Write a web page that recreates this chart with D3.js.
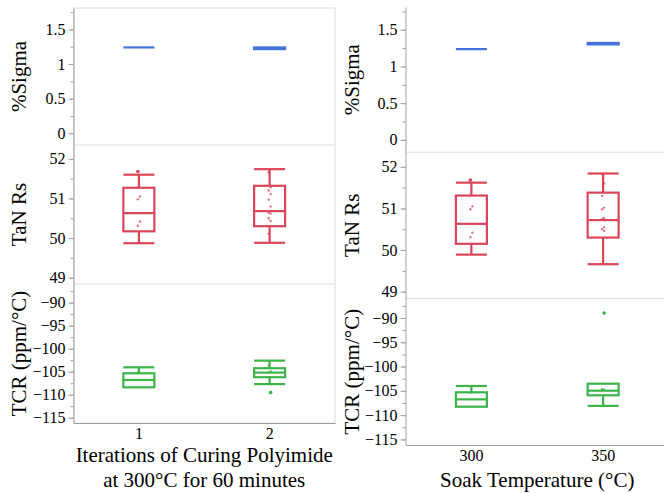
<!DOCTYPE html>
<html>
<head>
<meta charset="utf-8">
<script src="https://cdn.jsdelivr.net/npm/d3@7"></script>
<style>
  body { margin: 0; background: #fff; }
  svg text { font-family: 'Liberation Serif', 'Times New Roman', serif; fill: #000; }
</style>
</head>
<body>
<div id="chart"></div>
<script>
// categories
const groupsLeft = ["1", "2"];
const groupsRight = ["300", "350"];

// row titles and value ranges
const rowTitles = ["%Sigma", "TaN Rs", "TCR (ppm/°C)"];
const rowDomains = [[-0.17, 1.81], [48.84, 52.35], [-116.15, -85.95]];
const rowTicks = [[0, 0.5, 1, 1.5], [49, 50, 51, 52], [-115, -110, -105, -100, -95, -90]];
const rowMinorStep = [0.25, 0.5, 2.5];

// box summaries per group: [low whisker, Q1, median, Q3, high whisker]
const sigmaLeft = [[1.24, 1.24, 1.24, 1.24, 1.24], [1.216, 1.216, 1.228, 1.24, 1.24]];
const sigmaRight = [[1.236, 1.236, 1.236, 1.236, 1.236], [1.30, 1.30, 1.31, 1.32, 1.32]];
const tanLeft = [[49.87, 50.17, 50.63, 51.27, 51.6], [49.88, 50.3, 50.68, 51.32, 51.74]];
const tanRight = [[49.89, 50.15, 50.63, 51.31, 51.62], [49.66, 50.3, 50.72, 51.38, 51.84]];
const tcrLeft = [[-108.4, -108.4, -106.8, -105.35, -104.05], [-107.7, -106.2, -105.2, -104.25, -102.6]];
const tcrRight = [[-108.27, -108.27, -106.75, -105.3, -104.0], [-108.1, -105.92, -104.97, -103.53, -103.53]];

// individual points
const sigmaPtsLeft = [[], []];
const sigmaPtsRight = [[], []];
const tanPtsLeft = [[51.68, 51.05, 50.98, 50.42, 50.31],
                    [51.66, 51.28, 51.2, 51.11, 50.97, 50.8, 50.64, 50.62, 50.5, 50.43, 50.11]];
const tanPtsRight = [[51.68, 51.05, 50.98, 50.42, 50.31],
                     [51.83, 51.6, 51.3, 51.02, 50.98, 50.77, 50.75, 50.55, 50.5, 50.46]];
const tcrPtsLeft = [[-105.1], [-103.6, -104.9, -105.2, -109.5]];
const tcrPtsRight = [[-105.4], [-104.6, -104.7, -104.8, -89.0]];

const rowColors = ["#4472dc", "#d9455a", "#3cb44a"];

const serif = "'Liberation Serif', 'Times New Roman', serif";
const width = 664, height = 493;
const svg = d3.select("#chart").append("svg")
    .attr("width", width)
    .attr("height", height)
    .attr("font-family", serif);

// panel layouts
const panels = [
    {
        groups: groupsLeft, xRange: [73.5, 335], rows: [8, 145, 284, 423],
        boxes: [sigmaLeft, tanLeft, tcrLeft], pts: [sigmaPtsLeft, tanPtsLeft, tcrPtsLeft],
        titleX: 26, title: ["Iterations of Curing Polyimide", "at 300°C for 60 minutes"],
        frame: true
    },
    {
        groups: groupsRight, xRange: [405.5, 669], rows: [7, 152.3, 298.3, 445],
        boxes: [sigmaRight, tanRight, tcrRight], pts: [sigmaPtsRight, tanPtsRight, tcrPtsRight],
        titleX: 359, title: ["Soak Temperature (°C)"],
        frame: false
    }
];

const gridColor = "#dcdcdc";
const axisColor = "#a0a0a0";

function styleText(sel, size) {
    sel.attr("font-family", serif)
        .style("font-size", size + "px")
        .attr("fill", "#000");
}

panels.forEach(p => {
    const g = svg.append("g");
    const x = d3.scaleBand().domain(p.groups).range(p.xRange);
    const boxW = 31;

    // frame and separators
    if (p.frame) {
        g.append("rect")
            .attr("x", p.xRange[0]).attr("y", p.rows[0])
            .attr("width", p.xRange[1] - p.xRange[0])
            .attr("height", p.rows[3] - p.rows[0])
            .attr("fill", "none").attr("stroke", gridColor);
    }
    [1, 2].forEach(i => {
        g.append("line")
            .attr("x1", p.xRange[0]).attr("x2", p.xRange[1])
            .attr("y1", p.rows[i]).attr("y2", p.rows[i])
            .attr("stroke", gridColor);
    });

    rowTitles.forEach((title, r) => {
        const y = d3.scaleLinear()
            .domain(rowDomains[r])
            .range([p.rows[r + 1], p.rows[r]]);

        // minor ticks
        const minor = d3.range(Math.ceil(rowDomains[r][0] / rowMinorStep[r]) * rowMinorStep[r],
            rowDomains[r][1], rowMinorStep[r]);
        g.append("g")
            .attr("transform", `translate(${p.xRange[0]},0)`)
            .call(d3.axisLeft(y).tickValues(minor).tickSize(3).tickFormat(""))
            .call(a => a.select(".domain").remove())
            .selectAll("line").attr("stroke", axisColor);

        // major ticks
        const ax = g.append("g")
            .attr("transform", `translate(${p.xRange[0]},0)`)
            .call(d3.axisLeft(y).tickValues(rowTicks[r]).tickSize(5).tickPadding(3)
                .tickSizeOuter(0).tickFormat(d3.format("")));
        ax.attr("font-family", serif);
        ax.select(".domain").attr("stroke", axisColor);
        ax.selectAll("line").attr("stroke", axisColor);
        styleText(ax.selectAll("text"), 16);

        // row title
        g.append("text")
            .attr("transform", `translate(${p.titleX},${(p.rows[r] + p.rows[r + 1]) / 2}) rotate(-90)`)
            .attr("text-anchor", "middle")
            .call(styleText, 21)
            .text(title);

        // boxes
        const color = rowColors[r];
        p.boxes[r].forEach((s, i) => {
            const cx = x(p.groups[i]) + x.bandwidth() / 2;
            const bg = g.append("g")
                .attr("fill", "none")
                .attr("stroke", color)
                .attr("stroke-width", 2.2);
            // whiskers
            if (s[4] > s[3]) {
                bg.append("line").attr("x1", cx).attr("x2", cx).attr("y1", y(s[3])).attr("y2", y(s[4]));
                bg.append("line").attr("x1", cx - boxW / 2).attr("x2", cx + boxW / 2)
                    .attr("y1", y(s[4])).attr("y2", y(s[4]));
            }
            if (s[0] < s[1]) {
                bg.append("line").attr("x1", cx).attr("x2", cx).attr("y1", y(s[1])).attr("y2", y(s[0]));
                bg.append("line").attr("x1", cx - boxW / 2).attr("x2", cx + boxW / 2)
                    .attr("y1", y(s[0])).attr("y2", y(s[0]));
            }
            bg.append("rect")
                .attr("x", cx - boxW / 2).attr("width", boxW)
                .attr("y", y(s[3])).attr("height", Math.max(0, y(s[1]) - y(s[3])));
            bg.append("line").attr("x1", cx - boxW / 2).attr("x2", cx + boxW / 2)
                .attr("y1", y(s[2])).attr("y2", y(s[2]));

            // points
            g.selectAll(null)
                .data(p.pts[r][i])
                .enter()
                .append("circle")
                .attr("cx", (d, k) => cx + (k % 2 ? 1 : -1))
                .attr("cy", d => y(d))
                .attr("r", d => (d > s[4] || d < s[0]) ? 1.8 : 1.2)
                .attr("fill", color)
                .attr("opacity", d => (d > s[4] || d < s[0]) ? 1 : 0.75);
        });
    });

    // x axis
    const xa = g.append("g")
        .attr("transform", `translate(0,${p.rows[3]})`)
        .call(d3.axisBottom(x).tickSize(0).tickPadding(5).tickSizeOuter(0));
    xa.attr("font-family", serif);
    xa.select(".domain").attr("stroke", axisColor);
    styleText(xa.selectAll("text"), 16);

    // x title
    const cxTitle = (p.xRange[0] + p.xRange[1]) / 2;
    p.title.forEach((line, k) => {
        g.append("text")
            .attr("x", cxTitle)
            .attr("y", (p.title.length > 1 ? 462 : 487) + k * 25)
            .attr("text-anchor", "middle")
            .call(styleText, 21)
            .text(line);
    });
});
</script>
</body>
</html>
